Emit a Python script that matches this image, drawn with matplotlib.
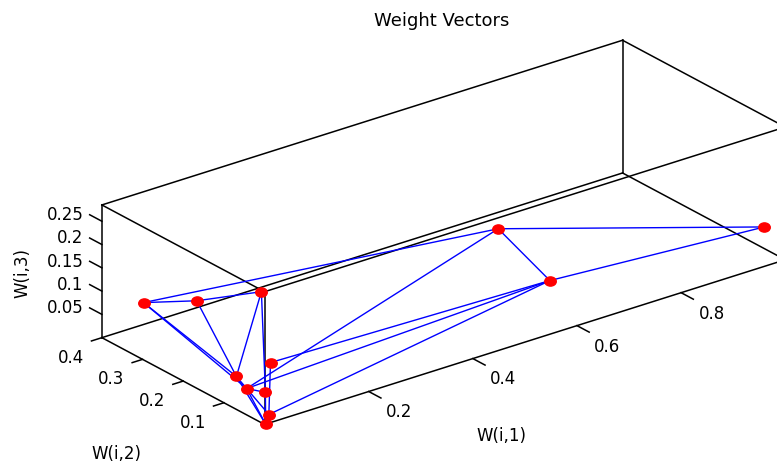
import numpy as np
import matplotlib
matplotlib.use("Agg")
import matplotlib.pyplot as plt
from matplotlib.path import Path
from matplotlib.transforms import Affine2D
from mpl_toolkits.mplot3d import proj3d

# SOM weight vectors (one entry per neuron)
w1 = [0.080, 0.104, 0.072, 0.024, 0.028, 0.027, 0.025, 0.016, 0.002, 0.644, 0.626, 0.991]
w2 = [0.400, 0.300, 0.100, 0.100, 0.080, 0.020, 0.030, 0.010, 0.000, 0.250, 0.100, 0.040]
w3 = [0.047, 0.089, 0.213, 0.048, 0.030, 0.114, 0.046, 0.011, 0.000, 0.076, 0.041, 0.055]

# neighbour links between neurons
links = [(0, 1), (0, 9), (0, 3), (0, 4), (1, 2), (1, 3), (2, 3), (2, 6),
         (3, 4), (3, 8), (4, 6), (4, 7), (4, 8), (6, 8), (7, 8), (5, 7),
         (5, 10), (4, 9), (4, 10), (7, 10), (9, 10), (9, 11), (10, 11)]

x_ticks = [0.2, 0.4, 0.6, 0.8]
y_ticks = [0.1, 0.2, 0.3, 0.4]
z_ticks = [0.05, 0.1, 0.15, 0.2, 0.25]
x_lim = (0.0, 1.0)
y_lim = (0.0, 0.4)
z_lim = (0.0, 0.285)

W, H = 777, 466
fig = plt.figure(figsize=(W / 100, H / 100), dpi=100)
ax = fig.add_axes([0, 0, H / W, 1], projection="3d", proj_type="ortho",
                  computed_zorder=False)
ax.view_init(elev=24.25, azim=232.4)
ax.set_box_aspect((1, 0.4058, 0.2215))
ax.set_xlim(*x_lim)
ax.set_ylim(*y_lim)
ax.set_zlim(*z_lim)
ax.set_axis_off()

# box edges
for y in y_lim:
    for z in z_lim:
        ax.plot(x_lim, [y, y], [z, z], color="k", lw=1.1, zorder=1)
for x in x_lim:
    for z in z_lim:
        ax.plot([x, x], y_lim, [z, z], color="k", lw=1.1, zorder=1)
for x in x_lim:
    for y in y_lim:
        ax.plot([x, x], [y, y], z_lim, color="k", lw=1.1, zorder=1)

# tick marks
for v in x_ticks:
    ax.plot([v, v], [0, -0.03], [0, 0], color="k", lw=1.1)
for v in y_ticks:
    ax.plot([0, -0.02], [v, v], [0, 0], color="k", lw=1.1)
for v in z_ticks:
    ax.plot([0, 0], [0.4, 0.43], [v, v], color="k", lw=1.1)

# links and neurons
for i, j in links:
    ax.plot([w1[i], w1[j]], [w2[i], w2[j]], [w3[i], w3[j]],
            color="#0000ff", lw=1.0, zorder=2)
dot = Path.unit_circle().transformed(Affine2D().scale(1.25, 1.0))
ax.plot(w1, w2, w3, ls="none", marker=dot, ms=8.3, color="#ff0000", zorder=3)

fig.text(442 / W, 1 - 21 / H, "Weight Vectors", ha="center", va="center", fontsize=13)


def to_axes(pts):
    pts = np.asarray(pts, dtype=float)
    px, py, _ = proj3d.proj_transform(pts[:, 0], pts[:, 1], pts[:, 2], ax.get_proj())
    return ax.transAxes.inverted().transform(ax.transData.transform(np.column_stack([px, py])))


# place the projected box where it sits in the reference
fig.canvas.draw()
anchor_pts = [(0, 0, 0), (0, 0.4, 0), (1, 0.4, 0),
              (0, 0, z_lim[1]), (0, 0.4, z_lim[1]), (1, 0.4, z_lim[1])]
anchor_px = np.array([(265, 425), (102, 338), (622, 172),
                      (265, 292), (102, 206), (622, 39)], dtype=float)
anchor_px[:, 1] = H - anchor_px[:, 1]
n = to_axes(anchor_pts)
k = len(n)
A = np.zeros((2 * k, 3))
b = np.zeros(2 * k)
A[:k, 0] = 1
A[:k, 2] = n[:, 0]
b[:k] = anchor_px[:, 0]
A[k:, 1] = 1
A[k:, 2] = n[:, 1]
b[k:] = anchor_px[:, 1]
x0, y0, S = np.linalg.lstsq(A, b, rcond=None)[0]
ax.set_position([x0 / W, y0 / H, S / W, S / H])

# tick labels and axis labels, anchored at projected 3D spots
fs = 12


def label(pt, s, **kw):
    nx, ny = to_axes([pt])[0]
    ax.text2D(nx, ny, s, transform=ax.transAxes, fontsize=fs, **kw)


for v in x_ticks:
    label((v, -0.075, -0.01), "%g" % v, ha="center", va="center")
for v in y_ticks:
    label((-0.06, v, -0.0215), "%g" % v, ha="center", va="center")
for v in z_ticks:
    label((0, 0.445, v - 0.008), "%g" % v, ha="right", va="center")

label((0.258, -0.251, 0), "W(i,1)", ha="center", va="center")
label((-0.246, 0.0485, 0), "W(i,2)", ha="center", va="center")
label((0, 0.596, 0.048), "W(i,3)", ha="center", va="center", rotation=90)

fig.savefig("out.png", dpi=100)
